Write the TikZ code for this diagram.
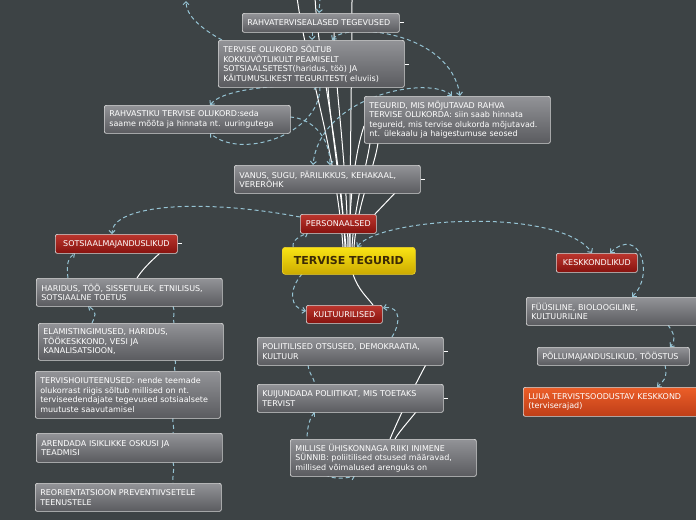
\documentclass[tikz,border=0pt]{standalone}
\usepackage{fontspec}
\setmainfont{DejaVu Sans}
\usetikzlibrary{arrows.meta,calc}
\definecolor{bgc}{RGB}{61,67,69}
\definecolor{graytop}{RGB}{146,147,151}
\definecolor{graybot}{RGB}{90,91,95}
\definecolor{edgec}{RGB}{215,215,215}
\definecolor{redtop}{RGB}{188,54,46}
\definecolor{redbot}{RGB}{134,18,14}
\definecolor{yeltop}{RGB}{250,228,20}
\definecolor{yelbot}{RGB}{204,170,0}
\definecolor{yeledge}{RGB}{240,210,40}
\definecolor{ttext}{RGB}{60,42,5}
\definecolor{orgtop}{RGB}{236,94,40}
\definecolor{orgbot}{RGB}{190,62,24}
\definecolor{dashc}{RGB}{150,196,212}
\pgfdeclarelayer{bglayer}
\pgfdeclarelayer{connlayer}
\pgfsetlayers{bglayer,connlayer,main}
\begin{document}
\begin{tikzpicture}[x=1pt,y=-1pt,
  box/.style={draw=edgec, line width=0.7pt, rounded corners=2pt, anchor=north west,
    inner ysep=0pt, text=white, font=\fontsize{8}{9.5}\selectfont},
  graybox/.style={box, top color=graytop, bottom color=graybot, inner xsep=5pt, align=left},
  redbox/.style={box, top color=redtop, bottom color=redbot, inner xsep=0pt, align=center},
  orangebox/.style={box, top color=orgtop, bottom color=orgbot, inner xsep=5pt, align=left},
  centerbox/.style={box, top color=yeltop, bottom color=yelbot, draw=yeledge, inner xsep=0pt,
    align=center, text=ttext, font=\fontsize{11}{13}\selectfont\bfseries, rounded corners=3pt},
  rel/.style={draw=dashc, line width=1pt, dash pattern=on 4pt off 3pt},
  relto/.style={rel, -{Straight Barb[length=3pt,width=6pt]}},
  relboth/.style={rel, {Straight Barb[length=3pt,width=6pt]}-{Straight Barb[length=3pt,width=6pt]}},
  link/.style={draw=white, line width=1pt},
  stub/.style={draw=white, line width=0.8pt}
]
\useasboundingbox (0,0) rectangle (696,520);
\begin{pgfonlayer}{bglayer}
\fill[bgc] (0,0) rectangle (696,520);
\end{pgfonlayer}

% ---------- nodes ----------
\node[graybox, minimum width=157pt, minimum height=19pt, text width=147pt] (rtg) at (242,13) {RAHVATERVISEALASED TEGEVUSED};
\node[graybox, minimum width=186pt, minimum height=47pt, text width=176pt] (to) at (218,40)
  {TERVISE OLUKORD SÕLTUB\\KOKKUVÕTLIKULT PEAMISELT\\SOTSIAALSETEST(haridus, töö) JA\\KÄITUMUSLIKEST TEGURITEST( eluviis)};
\node[graybox, minimum width=186pt, minimum height=28pt, text width=176pt] (rto) at (104,105)
  {RAHVASTIKU TERVISE OLUKORD:seda\\saame mõõta ja hinnata nt. uuringutega};
\node[graybox, minimum width=186pt, minimum height=47pt, text width=176pt] (teg) at (364,96)
  {TEGURID, MIS MÕJUTAVAD RAHVA\\TERVISE OLUKORDA: siin saab hinnata\\tegureid, mis tervise olukorda mõjutavad.\\nt. ülekaalu ja haigestumuse seosed};
\node[graybox, minimum width=186pt, minimum height=28pt, text width=176pt] (vanus) at (234,165)
  {VANUS, SUGU, PÄRILIKKUS, KEHAKAAL,\\VERERÕHK};
\node[redbox, minimum width=76pt, minimum height=19pt] (pers) at (300,214) {PERSONAALSED};
\node[centerbox, minimum width=133pt, minimum height=27pt] (tt) at (282,247) {TERVISE TEGURID};
\node[redbox, minimum width=122pt, minimum height=19pt] (sots) at (55,234) {SOTSIAALMAJANDUSLIKUD};
\node[redbox, minimum width=81pt, minimum height=19pt] (kesk) at (556,253) {KESKKONDLIKUD};
\node[redbox, minimum width=76pt, minimum height=18pt] (kult) at (306,305) {KULTUURILISED};
\node[graybox, minimum width=186pt, minimum height=28pt, text width=176pt] (har) at (36,278)
  {HARIDUS, TÖÖ, SISSETULEK, ETNILISUS,\\SOTSIAALNE TOETUS};
\node[graybox, minimum width=185pt, minimum height=37pt, text width=175pt] (elam) at (38,323)
  {ELAMISTINGIMUSED, HARIDUS,\\TÖÖKESKKOND, VESI JA\\KANALISATSIOON,};
\node[graybox, minimum width=185pt, minimum height=47pt, text width=175pt] (tervh) at (35,371)
  {TERVISHOIUTEENUSED: nende teemade\\olukorrast riigis sõltub millised on nt.\\terviseedendajate tegevused sotsiaalsete\\muutuste saavutamisel};
\node[graybox, minimum width=186pt, minimum height=29pt, text width=176pt] (aren) at (36,433)
  {ARENDADA ISIKLIKKE OSKUSI JA\\TEADMISI};
\node[graybox, minimum width=186pt, minimum height=28pt, text width=176pt] (reor) at (35,483)
  {REORIENTATSIOON PREVENTIIVSETELE\\TEENUSTELE};
\node[graybox, minimum width=186pt, minimum height=28pt, text width=176pt] (poli) at (257,337)
  {POLIITILISED OTSUSED, DEMOKRAATIA,\\KULTUUR};
\node[graybox, minimum width=186pt, minimum height=28pt, text width=176pt] (kuij) at (257,384)
  {KUIJUNDADA POLIITIKAT, MIS TOETAKS\\TERVIST};
\node[graybox, minimum width=186pt, minimum height=37pt, text width=176pt] (mill) at (290,439)
  {MILLISE ÜHISKONNAGA RIIKI INIMENE\\SÜNNIB: poliitilised otsused määravad,\\millised võimalused arenguks on};
\node[graybox, minimum width=186pt, minimum height=28pt, text width=176pt] (fuus) at (526,297)
  {FÜÜSILINE, BIOLOOGILINE,\\KULTUURILINE};
\node[graybox, minimum width=152pt, minimum height=18pt, text width=142pt] (pold) at (537,347)
  {PÕLLUMAJANDUSLIKUD, TÖÖSTUS};
\node[orangebox, minimum width=186pt, minimum height=29pt, text width=176pt] (luua) at (523,387)
  {LUUA TERVISTSOODUSTAV KESKKOND\\(terviserajad)};

\coordinate (topA) at (297,-3);
\coordinate (topB) at (186,1);
\coordinate (topC) at (320,-3);
\coordinate (topD) at (315,-3);
\coordinate (topE) at (352,-3);

% ---------- connectors ----------
\begin{pgfonlayer}{connlayer}
% white hierarchy lines
\draw[link] ($(tt.north west)+(61,0)$) .. controls (336,150) and (305,60) .. (topA);
\draw[link] ($(tt.north west)+(63,0)$) .. controls (341,150) and (318,60) .. (topD);
\draw[link] ($(tt.north west)+(68,0)$) .. controls (350,150) and (352,60) .. (topE);
\draw[link] ($(tt.north west)+(66,0)$) .. controls (346,150) and (334,80) .. ($(rtg.north west)+(92,19)$);
\draw[link] ($(tt.north west)+(64,0)$) .. controls (340,180) and (330,120) .. ($(to.north west)+(110,47)$);
\draw[link] ($(tt.north west)+(70,0)$) .. controls (355,200) and (366,170) .. ($(teg.north west)+(6,47)$);
\draw[link] ($(tt.north west)+(72,0)$) .. controls (358,200) and (374,170) .. ($(teg.north west)+(14,47)$);
\draw[link] ($(tt.north west)+(67,0)$) .. controls (350,190) and (356,150) .. ($(teg.north west)+(0,30)$);
\draw[link] ($(pers.north west)+(75,0)$) -- ($(vanus.north west)+(161,28)$);
\draw[link] ($(sots.north west)+(105,19)$) .. controls (150,262) and (142,270) .. ($(har.north west)+(101,0)$);
\draw[link] ($(tt.north west)+(71,27)$) .. controls (358,290) and (368,298) .. ($(kult.north west)+(67,0)$);
\draw[link] ($(poli.north west)+(172,22)$) .. controls (412,390) and (398,420) .. ($(mill.north west)+(100,0)$);
\draw[link] ($(kuij.north west)+(165,20)$) .. controls (412,418) and (400,430) .. ($(mill.north west)+(105,0)$);
% stubs
\draw[stub] (rtg.east) -- ++(4,0);
\draw[stub] ($(to.north east)+(0,24)$) -- ++(4,0);
\draw[stub] (vanus.east) -- ++(4,0);
\draw[stub] (sots.east) -- ++(4,0);
\draw[stub] (poli.east) -- ++(4,0);
\draw[stub] (kuij.east) -- ++(4,0);

% dashed relations
\draw[relto] ($(to.north west)+(4,0)$) .. controls (200,28) and (186,15) .. (topB);
\draw[relto] (topC) .. controls (320,4) .. ($(rtg.north west)+(77,0)$);
\draw[relto] ($(rtg.north west)+(70,19)$) -- ($(to.north west)+(94,0)$);
\draw[relboth] ($(to.north west)+(114,0)$) .. controls (345,22) and (450,30) .. ($(teg.north west)+(96,0)$);
\draw[relboth] ($(rto.north west)+(106,0)$) .. controls (225,86) and (300,84) .. ($(to.north west)+(100,47)$);
\draw[relto] ($(to.north west)+(102,47)$) .. controls (320,135) and (240,160) .. ($(rto.north west)+(106,28)$);
\draw[relto] ($(rto.north west)+(186,12)$) .. controls (310,118) and (330,135) .. ($(vanus.north west)+(96,0)$);
\draw[relboth] ($(teg.north west)+(88,0)$) .. controls (430,75) and (320,95) .. ($(vanus.north west)+(79,0)$);
\draw[relto] ($(pers.north west)+(0,3)$) .. controls (200,198) and (112,205) .. ($(sots.north west)+(57,0)$);
\draw[relto] ($(tt.north west)+(11,0)$) .. controls (292,240) and (300,236) .. ($(pers.north west)+(8,19)$);
\draw[relboth] ($(tt.north west)+(75,0)$) .. controls (380,217) and (560,207) .. ($(kesk.north west)+(36,0)$);
\draw[relboth] ($(kesk.north west)+(54,0)$) .. controls (640,225) and (655,275) .. ($(fuus.north west)+(106,0)$);
\draw[relto] ($(fuus.north west)+(142,28)$) .. controls (675,335) and (676,340) .. ($(pold.north west)+(133,0)$);
\draw[relto] ($(pold.north west)+(128,18)$) .. controls (668,378) and (663,382) .. ($(luua.north west)+(134,0)$);
\draw[relto] ($(har.north west)+(32,0)$) .. controls (66,265) and (68,258) .. ($(sots.north west)+(20,19)$);
\draw[relto] ($(elam.north west)+(54,0)$) .. controls (95,316) and (98,312) .. ($(har.north west)+(52,28)$);
\draw[rel] ($(har.north west)+(137,28)$) .. controls (176,312) and (172,318) .. ($(elam.north west)+(136,0)$);
\draw[rel] ($(elam.north west)+(137,37)$) .. controls (177,364) and (173,367) .. ($(tervh.north west)+(140,0)$);
\draw[rel] ($(tervh.north west)+(138,47)$) .. controls (172,424) and (175,428) .. ($(aren.north west)+(137,0)$);
\draw[rel] ($(aren.north west)+(137,29)$) .. controls (175,470) and (172,476) .. ($(reor.north west)+(138,0)$);
\draw[relto] ($(tt.north west)+(20,27)$) .. controls (288,290) and (290,308) .. ($(kult.north west)+(0,6)$);
\draw[relto] ($(poli.north west)+(135,0)$) .. controls (400,325) and (402,305) .. ($(kult.north west)+(77,3)$);
\draw[rel] ($(poli.north west)+(51,28)$) .. controls (308,372) and (314,378) .. ($(kuij.north west)+(58,0)$);
\draw[relboth] ($(kuij.north west)+(58,28)$) .. controls (302,425) and (300,490) .. ($(mill.north west)+(65,37)$);
\end{pgfonlayer}
\end{tikzpicture}
\end{document}
